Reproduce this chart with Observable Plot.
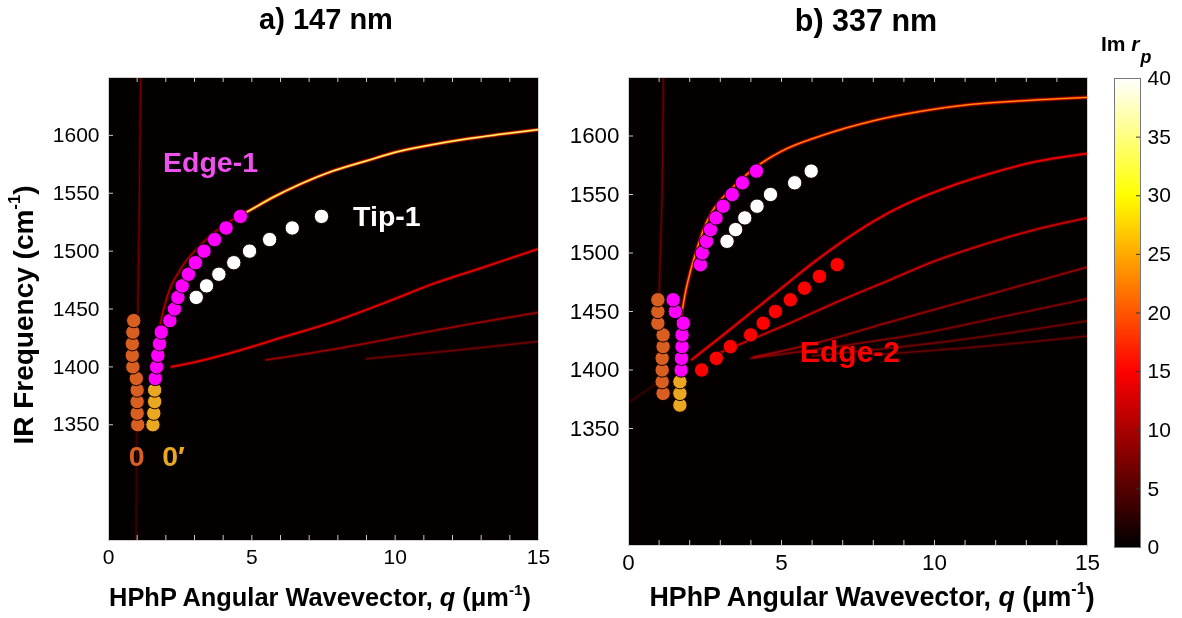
<!DOCTYPE html>
<html><head><meta charset="utf-8">
<script src="https://cdn.jsdelivr.net/npm/d3@7"></script>
<script src="https://cdn.jsdelivr.net/npm/@observablehq/plot@0.6"></script>
<style>
body{margin:0;background:#fff;font-family:"Liberation Sans",Arial,sans-serif;}
#wrap{position:relative;width:1182px;height:618px;overflow:hidden;}
#wrap svg{position:absolute;top:0;}
.t{position:absolute;font-weight:bold;white-space:nowrap;color:#000;}
.t sup{font-size:0.6em;vertical-align:0.75em;line-height:0;}
</style></head>
<body><div id="wrap"></div>
<script>
// ---------- ticks ----------
const xTicks = [0, 5, 10, 15];
const xMinor = [0,1,2,3,4,5,6,7,8,9,10,11,12,13,14,15];
const yTicks = [1350, 1400, 1450, 1500, 1550, 1600];
const cbTicks = [0, 5, 10, 15, 20, 25, 30, 35, 40];

// hot colormap (Im r_p)
const hotDomain = [0, 15, 30, 40];
const hotRange = ["#000000", "#ff0000", "#ffff00", "#ffffff"];

// ---------- panel a) 147 nm : measured modes ----------
const a_f0 = [1350,1360,1370,1380,1390,1400,1410,1420,1430,1440];
const a_q0 = [1.02,1.00,1.00,1.00,0.97,0.85,0.83,0.83,0.85,0.88];
const a_f0p = [1350,1360,1370,1380];
const a_q0p = [1.55,1.58,1.61,1.61];
const a_fEdge1 = [1390,1400,1410,1420,1430,1440,1450,1460,1470,1480,1490,1500,1510,1520,1530];
const a_qEdge1 = [1.63,1.68,1.72,1.78,1.84,2.14,2.30,2.42,2.57,2.79,3.03,3.33,3.70,4.10,4.60];
const a_fTip1 = [1460,1470,1480,1490,1500,1510,1520,1530];
const a_qTip1 = [3.06,3.42,3.85,4.37,4.92,5.62,6.41,7.43];

// panel a) calculated Im r_p branches [q, freq]
const a_curveMainLow = [[1.65,1415],[1.8,1436],[2.05,1461],[2.5,1484],[3.2,1505],[4.0,1522],[4.84,1534]];
const a_curveMain = [[4.6,1531],[4.84,1534],[5.7,1546],[6.7,1558],[7.8,1569],[9.0,1578],[10.1,1586],[11.3,1592],[12.5,1597],[13.7,1601],[15,1605]];
const a_curve2 = [[2.2,1400],[3.0,1404],[4.4,1413],[6.0,1425],[7.85,1439],[9.6,1455],[11.35,1472],[13.2,1487],[15,1502]];
const a_curve3 = [[5.5,1406],[7.8,1415],[10.2,1426],[12.6,1437],[15,1447]];
const a_curve4 = [[9.0,1407],[12,1414],[15,1422]];
const a_light = [[1.12,1650],[1.08,1550],[1.02,1445]];
const a_lightLow = [[1.0,1440],[0.96,1250]];
const a_peaks = {mainLow: 8, main: 36, c2: 14, c3: 7, c4: 4.5, light: 4, lightLow: 2};

// ---------- panel b) 337 nm : measured modes ----------
const b_f0 = [1380,1390,1400,1410,1420,1430,1440,1450,1460];
const b_q0 = [1.13,1.10,1.10,1.10,1.13,1.13,0.96,0.96,0.96];
const b_f0p = [1370,1380,1390];
const b_q0p = [1.68,1.68,1.68];
const b_fEdge1lo = [1400,1410,1420,1430,1440,1450,1460];
const b_qEdge1lo = [1.72,1.73,1.75,1.75,1.79,1.53,1.46];
const b_fEdge1 = [1490,1500,1510,1520,1530,1540,1550,1560,1570];
const b_qEdge1 = [2.35,2.41,2.55,2.68,2.86,3.09,3.39,3.72,4.18];
const b_fTip1 = [1510,1520,1530,1540,1550,1560,1570];
const b_qTip1 = [3.22,3.50,3.80,4.20,4.64,5.43,5.97];
const b_fEdge2 = [1400,1410,1420,1430,1440,1450,1460,1470,1480,1490];
const b_qEdge2 = [2.39,2.87,3.33,3.99,4.40,4.80,5.29,5.75,6.24,6.82];

// panel b) calculated Im r_p branches
const b_curveMain = [[1.72,1445],[1.85,1465],[2.0,1482],[2.22,1502],[2.45,1520],[2.68,1533],[3.0,1545],[3.33,1554],[4.09,1572],[5.0,1587],[6.27,1600],[8.0,1613],[9.54,1621],[11.2,1627],[12.8,1630],[15,1633]];
const b_curve2 = [[2.08,1409],[3.0,1428],[4.0,1449],[5.0,1470],[6.0,1491],[7.0,1510],[8.0,1527],[9.0,1541],[10.0,1552],[11.7,1567],[13.3,1578],[15,1585]];
const b_curve3 = [[3.0,1415],[4.0,1426],[5.18,1439],[6.8,1458],[8.45,1476],[10,1493],[11.7,1508],[13.3,1520],[15,1530]];
const b_curve4 = [[4.09,1411],[6.27,1424],[8.4,1440],[10.6,1456],[12.8,1472],[15,1488]];
const b_curve5 = [[4.0,1410],[6.8,1420],[9.54,1431],[12.3,1446],[15,1461]];
const b_curve6 = [[6.0,1412],[8.3,1418],[10.6,1425],[12.8,1433],[15,1442]];
const b_curve7 = [[8.0,1413],[11.5,1420],[15,1429]];
const b_light = [[1.14,1650],[1.1,1550],[1.0,1465]];
const b_lightLow = [[0.0,1372],[1.0,1390]];
const b_peaks = {main: 24, c2: 15, c3: 11, c4: 7, c5: 5.5, c6: 4.5, c7: 4, light: 4, lightLow: 2};

// ---------- colours of measured modes ----------
const colMode0 = "#d95f20", colMode0p = "#e9a820", colEdge1 = "#ff00ff", colTip1 = "#ffffff", colEdge2 = "#ff0000";

// ---------- annotations [text, centre q, centre freq] ----------
const a_labels = [
  {text: "Edge-1", q: 3.56, f: 1576, color: "#f050f0"},
  {text: "Tip-1", q: 9.71, f: 1530, color: "#ffffff"},
  {text: "0", q: 0.98, f: 1322, color: colMode0},
  {text: "0\u2032", q: 2.27, f: 1322, color: colMode0p}
];
const b_labels = [
  {text: "Edge-2", q: 7.24, f: 1415, color: "#ff0000"}
];

// ---------- helpers ----------
function curveRows(list) {
  return list.flatMap(([id, pts, v]) => pts.map(([q, f]) => ({id, q, f, v})));
}
function dotRows(qs, fs) { return qs.map((q, i) => ({q, f: fs[i]})); }
const glow = [
  {k: 0.4, w: 4.2, op: 0.55},
  {k: 0.7, w: 2.3, op: 0.9},
  {k: 1.0, w: 1.0, op: 1}
];
const FONT = "'Liberation Sans', Arial, sans-serif";

function panel({W, ml, mr, mt, mb, curves, lights, dotSets, labels, fs, lfs}) {
  const H = 618;
  const iw = W - ml - mr, ih = H - mt - mb;
  const rows = curveRows(curves);
  const lrows = curveRows(lights);
  const lineMarks = (data, curve) => glow.map(L => Plot.line(data, {x: "q", y: "f", z: "id", stroke: d => d.v * L.k,
        strokeWidth: L.w, strokeOpacity: L.op, curve, mixBlendMode: "screen"}));
  return Plot.plot({
    width: W, height: H, marginLeft: ml, marginRight: mr, marginTop: mt, marginBottom: mb,
    style: {fontFamily: FONT, fontSize: fs + "px", background: "transparent", color: "#000", overflow: "visible"},
    x: {domain: [0, 15], label: null},
    y: {domain: [1250, 1650], label: null},
    color: {type: "linear", domain: hotDomain, range: hotRange, clamp: true},
    marks: [
      Plot.frame({fill: "#050000", stroke: null}),
      ...lineMarks(lrows, "linear"),
      ...lineMarks(rows, "monotone-x"),
      ...dotSets.map(s => Plot.dot(dotRows(s.q, s.f), {x: "q", y: "f", r: 7.2, fill: s.color,
        stroke: "#120000", strokeWidth: 1})),
      Plot.text(labels, {x: "q", y: "f", text: "text", fill: "color", textAnchor: "middle",
        fontSize: lfs, fontWeight: "bold", fontFamily: FONT}),
      Plot.ruleX(xMinor, {stroke: "#c8c8c8", insetTop: ih - 5}),
      Plot.ruleX(xMinor, {stroke: "#c8c8c8", insetBottom: ih - 5}),
      Plot.ruleY(yTicks, {stroke: "#c8c8c8", insetRight: iw - 5}),
      Plot.frame({stroke: "#d0d0d0"}),
      Plot.axisX({ticks: xTicks, tickFormat: d => String(d), anchor: "bottom", tickSize: 0, tickPadding: 9, fontSize: fs, label: null}),
      Plot.axisY({ticks: yTicks, tickFormat: d => String(d), anchor: "left", tickSize: 0, tickPadding: 9, fontSize: fs, label: null})
    ]
  });
}

const wrap = document.getElementById("wrap");

const svgA = panel({
  W: 580, ml: 108, mr: 42, mt: 77, mb: 78, fs: 21, lfs: 28.5,
  lights: [["lightLow", a_lightLow, a_peaks.lightLow], ["light", a_light, a_peaks.light]],
  curves: [
    ["c4", a_curve4, a_peaks.c4], ["c3", a_curve3, a_peaks.c3], ["c2", a_curve2, a_peaks.c2],
    ["mainLow", a_curveMainLow, a_peaks.mainLow], ["main", a_curveMain, a_peaks.main]
  ],
  dotSets: [
    {q: a_q0, f: a_f0, color: colMode0},
    {q: a_q0p, f: a_f0p, color: colMode0p},
    {q: a_qEdge1, f: a_fEdge1, color: colEdge1},
    {q: a_qTip1, f: a_fTip1, color: colTip1}
  ],
  labels: a_labels
});
svgA.style.left = "0px";
wrap.appendChild(svgA);

const svgB = panel({
  W: 540, ml: 48, mr: 33, mt: 77, mb: 73, fs: 22.4, lfs: 30,
  lights: [["lightLow", b_lightLow, b_peaks.lightLow], ["light", b_light, b_peaks.light]],
  curves: [
    ["c7", b_curve7, b_peaks.c7], ["c6", b_curve6, b_peaks.c6], ["c5", b_curve5, b_peaks.c5],
    ["c4", b_curve4, b_peaks.c4], ["c3", b_curve3, b_peaks.c3], ["c2", b_curve2, b_peaks.c2],
    ["main", b_curveMain, b_peaks.main]
  ],
  dotSets: [
    {q: b_q0, f: b_f0, color: colMode0},
    {q: b_q0p, f: b_f0p, color: colMode0p},
    {q: b_qEdge1lo, f: b_fEdge1lo, color: colEdge1},
    {q: b_qEdge1, f: b_fEdge1, color: colEdge1},
    {q: b_qTip1, f: b_fTip1, color: colTip1},
    {q: b_qEdge2, f: b_fEdge2, color: colEdge2}
  ],
  labels: b_labels
});
svgB.style.left = "580px";
wrap.appendChild(svgB);

// colour bar
const cb = Plot.plot({
  width: 92, height: 618, marginLeft: 24, marginRight: 42, marginTop: 78, marginBottom: 71,
  style: {fontFamily: FONT, fontSize: "21px", background: "transparent", color: "#000", overflow: "visible"},
  x: {domain: [0, 1], axis: null},
  y: {domain: [0, 40], label: null},
  color: {type: "linear", domain: hotDomain, range: hotRange, clamp: true},
  marks: [
    Plot.raster({fill: (x, y) => y, x1: 0, x2: 1, y1: 0, y2: 40, width: 2, height: 400}),
    Plot.ruleY(cbTicks, {stroke: "#333", insetLeft: 22}),
    Plot.frame({stroke: "#777"}),
    Plot.axisY({ticks: cbTicks, anchor: "right", tickSize: 0, tickPadding: 7, fontSize: 21, label: null})
  ]
});
cb.style.left = "1090px";
wrap.appendChild(cb);

// ---------- text ----------
function addText(html, css) {
  const d = document.createElement("div");
  d.className = "t";
  d.innerHTML = html;
  Object.assign(d.style, css);
  wrap.appendChild(d);
  return d;
}
addText("a) 147 nm", {left: "326px", top: "3px", fontSize: "29px", transform: "translateX(-50%)"});
addText("b) 337 nm", {left: "866px", top: "3px", fontSize: "30.5px", transform: "translateX(-50%)"});
addText("HPhP Angular Wavevector, <i>q</i> (\u03bcm<sup>-1</sup>)", {left: "320px", top: "583px", fontSize: "25.4px", transform: "translateX(-50%)"});
addText("HPhP Angular Wavevector, <i>q</i> (\u03bcm<sup>-1</sup>)", {left: "872px", top: "582px", fontSize: "26.8px", transform: "translateX(-50%)"});
addText("IR Frequency (cm<sup>-1</sup>)", {left: "24px", top: "315px", fontSize: "28px", transform: "translate(-50%,-50%) rotate(-90deg)"});
addText("Im <i>r</i><i style='font-size:0.85em;position:relative;top:0.7em;margin-left:1px'>p</i>", {left: "1101px", top: "32px", fontSize: "21px"});
</script>
</body></html>
